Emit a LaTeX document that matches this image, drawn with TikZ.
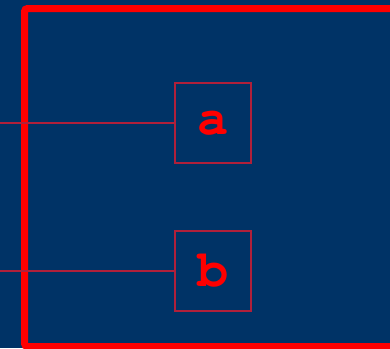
\documentclass[tikz,border=0pt]{standalone}
\usepackage{fontspec}
\newfontfamily\monofont{TeX Gyre Cursor}
\definecolor{bgblue}{HTML}{003366}
\definecolor{thinred}{HTML}{B0203A}
\tikzset{
  letterbox/.style={draw=thinred, line width=1.2pt, minimum width=76pt, minimum height=80pt, inner sep=0pt,
    text=red, font=\monofont\bfseries\fontsize{52}{52}\selectfont},
  wire/.style={draw=thinred, line width=1.2pt},
  frame/.style={draw=red, line width=7pt, rounded corners=3pt}
}
\begin{document}
\begin{tikzpicture}[x=1pt,y=-1pt]
  \fill[bgblue] (0,0) rectangle (390,348);
  \useasboundingbox (0,0) rectangle (390,348);
  \clip (0,0) rectangle (390,348);
  \draw[frame] (400,346.5) -- (24.5,346.5) -- (24.5,8.5) -- (400,8.5);
  \node[letterbox] (a) at (213,123) {a};
  \node[letterbox] (b) at (213,271) {b};
  \coordinate (la) at (0,123);
  \coordinate (lb) at (0,271);
  \draw[wire] (la) -- (a.west);
  \draw[wire] (lb) -- (b.west);
\end{tikzpicture}
\end{document}
